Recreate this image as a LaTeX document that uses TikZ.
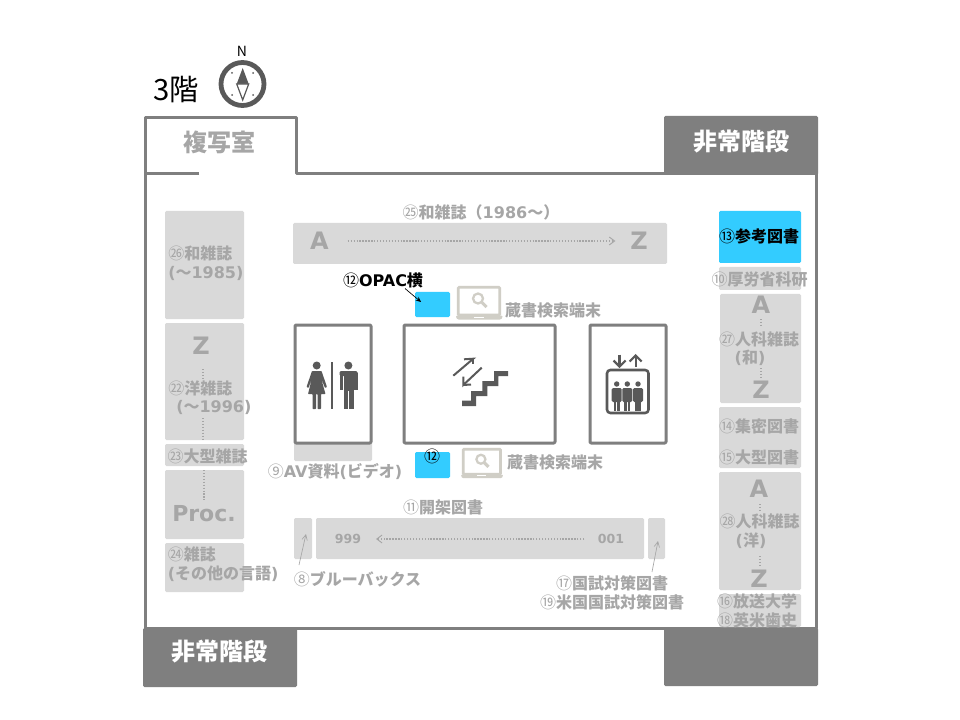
\documentclass[tikz,border=0pt]{standalone}
\usepackage{fontspec}
\setmainfont{Noto Sans CJK JP}
\newfontfamily\latnfont{DejaVu Sans}
\newcommand\latn[1]{{\latnfont #1}}
\newcommand\cnum[1]{{\mdseries #1}}
\usetikzlibrary{arrows.meta}
\definecolor{wall}{HTML}{7F7F7F}
\definecolor{shelf}{HTML}{D9D9D9}
\definecolor{tealblue}{HTML}{33CCFF}
\definecolor{labelgray}{HTML}{A6A6A6}
\definecolor{icondark}{HTML}{595959}
\definecolor{laptopc}{HTML}{D0CEC6}
\tikzset{
  x=0.75pt,y=-0.75pt,
  wallline/.style={draw=wall,line width=2.25pt,line join=round},
  room/.style={wallline,fill=white,rounded corners=0.8pt},
  stairfill/.style={fill=wall,rounded corners=1pt},
  shelfbox/.style={fill=shelf,rounded corners=1pt},
  bluebox/.style={fill=tealblue,rounded corners=1pt},
  lab/.style={inner sep=0pt,text=labelgray,font=\fontsize{12}{14.5}\selectfont\bfseries,align=center},
  blk/.style={lab,text=black},
  biglab/.style={inner sep=0pt,text=labelgray,font=\fontsize{18}{20}\selectfont\bfseries},
  whitelab/.style={biglab,text=white},
  dotline/.style={draw=labelgray,line width=1pt,dash pattern=on 1pt off 1.2pt},
  thinarrow/.style={draw=labelgray,line width=0.5pt,-{Straight Barb[length=4pt,width=4pt]}},
  icon/.style={fill=icondark},
  iconline/.style={draw=icondark,line width=1.5pt},
}
\newcommand\laptop[3]{% x, y of screen top left, scale
\begin{scope}[shift={(#1,#2)},scale=#3]
\draw[laptopc,line width=2pt,rounded corners=0.6pt] (1.3,1.3)--(42.7,1.3)--(42.7,29)--(1.3,29)--cycle;
\fill[laptopc,rounded corners=0.8pt] (-1,29.5)--(45.5,29.5)--(45.5,31.5)--(44,33.5)--(0.5,33.5)--(-1,31.5)--cycle;
\fill[white] (17,30.5) rectangle (27,31.3);
\draw[laptopc,line width=1.7pt] (21,12.5) circle (5);
\draw[laptopc,line width=2.3pt] (25,16.5)--(29.5,21);
\end{scope}}
\begin{document}
\begin{tikzpicture}
\useasboundingbox[fill=white] (0,0) rectangle (960,720);
% walls
\draw[wallline] (199,174)--(145,174);
\draw[wallline] (145,628)--(145,118)--(296,118)--(296,174)--(816,174)--(816,628)--(145,628);
% emergency stairs
\fill[stairfill] (664,116) rectangle (818,175);
\fill[stairfill] (143,628) rectangle (297,687);
\fill[stairfill] (664,628) rectangle (818,686);
% shelves left
\fill[shelfbox] (165,211) rectangle (244,319);
\fill[shelfbox] (165,323) rectangle (244,440);
\fill[shelfbox] (165,444) rectangle (244,466);
\fill[shelfbox] (165,470) rectangle (244,539);
\fill[shelfbox] (165,543) rectangle (244,592);
% top shelf
\fill[shelfbox] (293,223) rectangle (667,264);
% right shelves
\fill[bluebox] (719,211) rectangle (801,263);
\fill[shelfbox] (719,267) rectangle (801,290);
\fill[shelfbox] (720,294) rectangle (801,403);
\fill[shelfbox] (719,407) rectangle (801,468);
\fill[shelfbox] (719,472) rectangle (801,590);
\fill[shelfbox] (719,594) rectangle (801,627);
% AV
\fill[shelfbox] (294,440) rectangle (372,461);
% bottom
\fill[shelfbox] (294,518) rectangle (312,559);
\fill[shelfbox] (316,518) rectangle (644,559);
\fill[shelfbox] (648,518) rectangle (665,559);
% blue
\fill[bluebox] (415,292) rectangle (450,317);
\fill[bluebox] (415,452) rectangle (450,478);
% rooms
\draw[room] (295,325) rectangle (371,443);
\draw[room] (404,325) rectangle (555,443);
\draw[room] (590,325) rectangle (666,443);
% laptops
\laptop{457}{286}{1}
\laptop{462}{448}{0.9}
% toilet
\fill[icon] (316.7,365.5) circle (4);
\fill[icon,rounded corners=0.5pt] (312,371)--(321.5,371)--(327,387)--(325,388)--(321,378)--(325.5,394)--(321,394)--(321,409)--(317.5,409)--(317.5,394)--(316,394)--(316,409)--(312.5,409)--(312.5,394)--(308,394)--(312,378)--(308.5,388)--(306.5,387)--cycle;
\fill[icon] (330.8,361.5) rectangle (333.4,409);
\fill[icon] (348.4,365.5) circle (4);
\fill[icon,rounded corners=1pt] (339.5,371) rectangle (357.5,376);
\fill[icon] (343.5,373) rectangle (353.5,391);
\fill[icon] (343.5,390) rectangle (347.9,409);
\fill[icon] (348.9,390) rectangle (353.5,409);
\fill[icon] (339.5,373) rectangle (342.8,390);
\fill[icon] (354.2,373) rectangle (357.5,390);
% stairs icon
\fill[icon] (462,400.7)--(471,400.7)--(471,391)--(482.3,391)--(482.3,381)--(494,381)--(494,371)--(508,371)--(508,376)--(498.3,376)--(498.3,386)--(487.3,386)--(487.3,396)--(476,396)--(476,406)--(462,406)--cycle;
\draw[iconline] (453.3,375.7)--(473.3,358.7)--(464,359.3);
\draw[iconline] (473.3,358.7)--(473.3,364);
\draw[iconline] (481.7,367.7)--(463.3,385)--(463.3,376.5);
\draw[iconline] (463.3,385)--(471,384.5);
% elevator
\draw[iconline,line width=1.9pt,rounded corners=2.5pt] (607,370) rectangle (648.5,413);
\draw[iconline,line width=1.6pt] (619.5,354.5)--(619.5,366.5);
\draw[iconline,line width=1.6pt] (613.5,360.5)--(619.5,366.5)--(625.5,360.5);
\draw[iconline,line width=1.6pt] (635.7,367)--(635.7,355.5);
\draw[iconline,line width=1.6pt] (629.7,361.5)--(635.7,355.5)--(641.7,361.5);
\foreach \px in {616.7,627.3,638}{
  \fill[icon] (\px,384) circle (2.7);
  \fill[icon,rounded corners=1pt] (\px-5,388) rectangle (\px+5,402);
  \fill[icon] (\px-3,400) rectangle (\px-0.4,411);
  \fill[icon] (\px+0.4,400) rectangle (\px+3,411);
}
% compass
\draw[icondark,line width=3.6pt] (242.5,84) circle (21.5);
\fill[icondark] (242.7,68)--(248.7,84)--(236.7,84)--cycle;
\draw[icondark,fill=white,line width=0.9pt] (242.7,100)--(248.7,84)--(236.7,84)--cycle;
\foreach \dx/\dy in {-10.5/-11,10.5/-11,-10.5/11,10.5/11}{\fill[icondark] (242.5+\dx,84+\dy) circle (1);}
% texts
\node[inner sep=0pt,font=\fontsize{10.5}{11}\selectfont] (north) at (242,51) {N};
\node[inner sep=0pt,font=\fontsize{22}{24}\selectfont] (floor) at (176,90) {3階};
\node[biglab] (copy) at (219,142) {複写室};
\node[whitelab] (em1) at (741,142) {非常階段};
\node[whitelab] (em2) at (219,652) {非常階段};
\node[lab] (t25) at (481,212) {\cnum{㉕}和雑誌（\latn{1986}～）};
\node[biglab] (topA) at (319.5,241) {\latn{A}};
\node[biglab] (topZ) at (639,241) {\latn{Z}};
\draw[dotline,shorten <=14pt,shorten >=11pt,-{Straight Barb[length=4pt,width=6pt,line width=0.7pt]},line width=1pt] (topA)--(topZ);
% left
\node[lab,anchor=west,align=left] (t26) at (168,263.5) {\cnum{㉖}和雑誌\\\latn{(}～\latn{1985)}};
\node[biglab] (lZ) at (201,346) {\latn{Z}};
\coordinate (d1a) at (203,369);\coordinate (d1b) at (203,378);
\draw[dotline] (d1a)--(d1b);
\node[lab,anchor=west] (t22) at (168,388) {\cnum{㉒}洋雑誌};
\node[lab,anchor=west] (t22b) at (176,407) {\latn{(}～\latn{1996)}};
\coordinate (d2a) at (203,418);\coordinate (d2b) at (203,440);
\draw[dotline] (d2a)--(d2b);
\node[lab] (t23) at (207.5,456) {\cnum{㉓}大型雑誌};
\coordinate (d3a) at (204,470);\coordinate (d3b) at (204,500);
\draw[dotline] (d3a)--(d3b);
\node[biglab,font=\fontsize{16.5}{18}\selectfont\bfseries] (proc) at (204,514) {\latn{Proc.}};
\node[lab,anchor=west,align=left] (t24) at (167.5,564) {\cnum{㉔}雑誌\\\latn{(}その他の言語\latn{)}};
% center
\node[blk] (opac) at (383,280) {\cnum{⑫}\latn{OPAC}横};
\coordinate (opacend) at (421,302);
\coordinate (opacstart) at (405,288.5);
\draw[black,line width=0.5pt,-{Stealth[length=4pt,width=3.5pt]}] (opacstart)--(opacend);
\node[lab] (s1) at (553,310) {蔵書検索端末};
\node[lab] (s2) at (555,462) {蔵書検索端末};
\node[blk] (n12) at (432,456) {\cnum{⑫}};
\node[lab] (t9) at (335,472) {\cnum{⑨}\latn{AV}資料\latn{(}ビデオ\latn{)}};
\node[lab] (t11) at (443,507) {\cnum{⑪}開架図書};
\node[lab,font=\fontsize{9.4}{10}\selectfont\bfseries] (n999) at (348,539) {\latn{999}};
\node[lab,font=\fontsize{9.4}{10}\selectfont\bfseries] (n001) at (611,539) {\latn{001}};
\draw[dotline,shorten <=10pt,shorten >=11pt,-{Straight Barb[length=4pt,width=6pt,line width=0.7pt]}] (n001)--(n999);
\node[lab] (t8) at (357.5,579) {\cnum{⑧}ブルーバックス};
\coordinate (a8s) at (299,565);\coordinate (a8e) at (306,534);
\draw[thinarrow] (a8s)--(a8e);
\node[lab] (t17) at (612,583) {\cnum{⑰}国試対策図書};
\node[lab] (t19) at (612,602.5) {\cnum{⑲}米国国試対策図書};
\coordinate (a17s) at (652,572);\coordinate (a17e) at (658,541);
\draw[thinarrow] (a17s)--(a17e);
% right
\node[blk] (t13) at (759,236) {\cnum{⑬}参考図書};
\node[lab] (t10) at (759.5,279) {\cnum{⑩}厚労省科研};
\node[biglab] (r1A) at (761,305) {\latn{A}};
\coordinate (r1a) at (761,319);\coordinate (r1b) at (761,326);
\draw[dotline] (r1a)--(r1b);
\node[lab] (t27) at (759,339) {\cnum{㉗}人科雑誌};
\node[lab] (t27b) at (750,358) {\latn{(}和\latn{)}};
\coordinate (r1c) at (761,368);\coordinate (r1d) at (761,379);
\draw[dotline] (r1c)--(r1d);
\node[biglab] (r1Z) at (761,390) {\latn{Z}};
\node[lab] (t14) at (759,426) {\cnum{⑭}集密図書};
\node[lab] (t15) at (759,457) {\cnum{⑮}大型図書};
\node[biglab] (r2A) at (759,489) {\latn{A}};
\coordinate (r2a) at (760,504);\coordinate (r2b) at (760,510);
\draw[dotline] (r2a)--(r2b);
\node[lab] (t28) at (759.5,521) {\cnum{㉘}人科雑誌};
\node[lab] (t28b) at (751,541) {\latn{(}洋\latn{)}};
\coordinate (r2c) at (760,556);\coordinate (r2d) at (760,566);
\draw[dotline] (r2c)--(r2d);
\node[biglab] (r2Z) at (759,579) {\latn{Z}};
\node[lab] (t16) at (757,601) {\cnum{⑯}放送大学};
\node[lab] (t18) at (757,620) {\cnum{⑱}英米歯史};
\end{tikzpicture}
\end{document}
